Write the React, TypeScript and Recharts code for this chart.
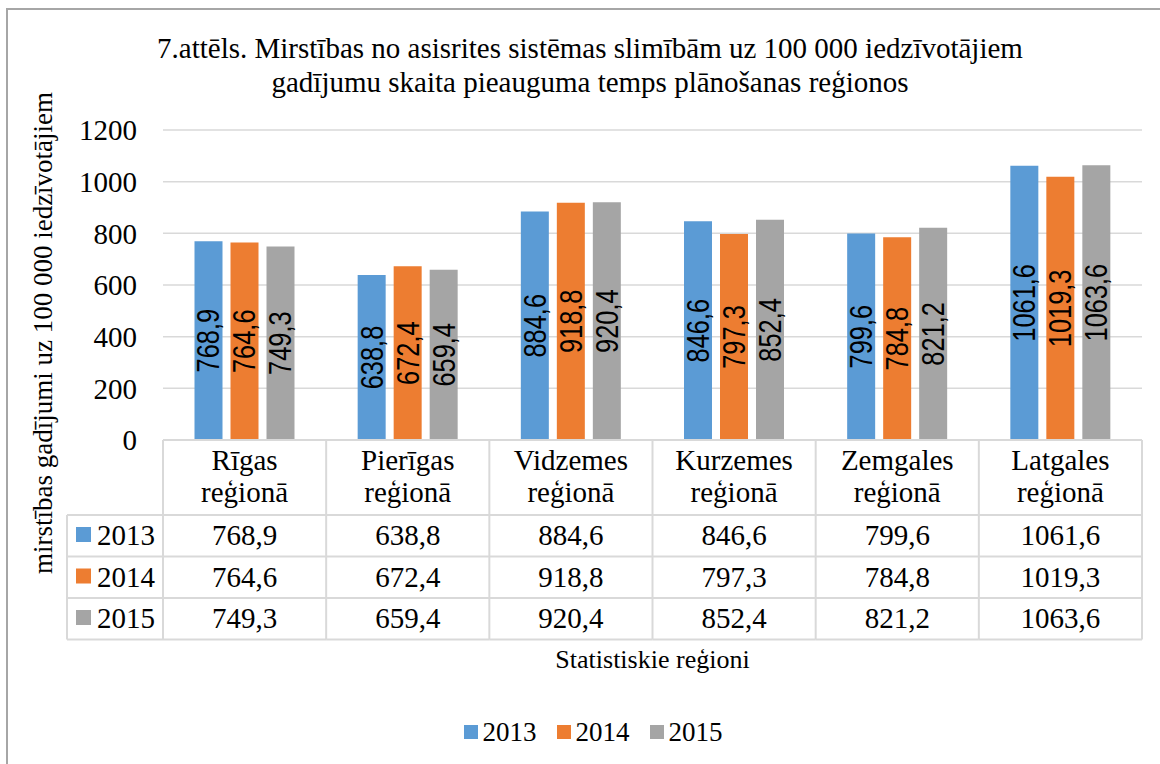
import React from 'react';
import { BarChart, Bar, XAxis, YAxis, CartesianGrid, Legend, LabelList } from 'recharts';

const regions = ['Rīgas reģionā', 'Pierīgas reģionā', 'Vidzemes reģionā', 'Kurzemes reģionā', 'Zemgales reģionā', 'Latgales reģionā'];
const years = ['2013', '2014', '2015'];
const values2013 = [768.9, 638.8, 884.6, 846.6, 799.6, 1061.6];
const values2014 = [764.6, 672.4, 918.8, 797.3, 784.8, 1019.3];
const values2015 = [749.3, 659.4, 920.4, 852.4, 821.2, 1063.6];
const yTicks = [0, 200, 400, 600, 800, 1000, 1200];

const seriesValues = [values2013, values2014, values2015];
const seriesKeys = ['y2013', 'y2014', 'y2015'];
const colors = ['#5B9BD5', '#ED7D31', '#A5A5A5'];

const data = regions.map((r, i) => ({
  region: r,
  y2013: values2013[i],
  y2014: values2014[i],
  y2015: values2015[i],
}));

const SERIF = '"Liberation Serif", "Times New Roman", serif';
const SANS = '"Liberation Sans", Arial, sans-serif';
const GRID = '#D9D9D9';

const fmt = (v: any) => Number(v).toFixed(1).replace('.', ',');

const HEADER_H = 75;
const ROW_H = 41.5;
const LEFT_COL_W = 96;
const FS = 29;

const TableTick = (props: any) => {
  const { x, y, payload, index, width } = props;
  const bw = (typeof width === 'number' && width > 0 ? width : 979) / regions.length;
  const half = bw / 2;
  const left = x - half;
  const right = x + half;
  const bottom = y + HEADER_H + ROW_H * years.length;
  const words = String(payload.value).split(' ');
  const rowLines = [0, 1, 2, 3].map((k) => y + HEADER_H + ROW_H * k);
  return (
    <g>
      {index === 0 && (
        <line x1={left} y1={y} x2={left} y2={bottom} stroke={GRID} strokeWidth={2} />
      )}
      <line x1={right} y1={y} x2={right} y2={bottom} stroke={GRID} strokeWidth={2} />
      {rowLines.map((ly, k) => (
        <line key={k} x1={left} y1={ly} x2={right} y2={ly} stroke={GRID} strokeWidth={2} />
      ))}
      <text x={x} y={y + 30} textAnchor="middle" fontFamily={SERIF} fontSize={FS} fill="#000">{words[0]}</text>
      <text x={x} y={y + 62} textAnchor="middle" fontFamily={SERIF} fontSize={FS} fill="#000">{words.slice(1).join(' ')}</text>
      {seriesValues.map((vals, k) => (
        <text key={k} x={x} y={y + HEADER_H + ROW_H * k + 30} textAnchor="middle" fontFamily={SERIF} fontSize={FS} fill="#000">
          {fmt(vals[index])}
        </text>
      ))}
      {index === 0 && (
        <g>
          {rowLines.map((ly, k) => (
            <line key={k} x1={left - LEFT_COL_W} y1={ly} x2={left} y2={ly} stroke={GRID} strokeWidth={2} />
          ))}
          <line x1={left - LEFT_COL_W} y1={rowLines[0]} x2={left - LEFT_COL_W} y2={bottom} stroke={GRID} strokeWidth={2} />
          {years.map((yr, k) => (
            <g key={yr}>
              <rect x={left - 87} y={y + HEADER_H + ROW_H * k + 12} width={15} height={15} fill={colors[k]} />
              <text x={left - 66} y={y + HEADER_H + ROW_H * k + 30} fontFamily={SERIF} fontSize={FS} fill="#000">{yr}</text>
            </g>
          ))}
        </g>
      )}
    </g>
  );
};

const BarValueLabel = (props: any) => {
  const { x, y, width, height, value } = props;
  const cx = Number(x) + Number(width) / 2;
  const cy = Number(y) + Number(height) / 2;
  return (
    <text
      transform={`translate(${cx}, ${cy}) rotate(-90) scale(0.82, 1)`}
      textAnchor="middle"
      dominantBaseline="central"
      fontFamily={SANS}
      fontSize={31}
      fill="#000"
    >
      {fmt(value)}
    </text>
  );
};

const LegendContent = (props: any) => {
  const payload = props.payload || [];
  return (
    <div style={{ display: 'flex', justifyContent: 'center', alignItems: 'center', fontFamily: SERIF, fontSize: 27, lineHeight: '30px', color: '#000' }}>
      {payload.map((p: any, i: number) => (
        <div key={i} style={{ display: 'flex', alignItems: 'center', marginRight: i < payload.length - 1 ? 20 : 0 }}>
          <span style={{ display: 'inline-block', width: 14, height: 14, background: p.color, marginRight: 5 }} />
          <span>{p.value}</span>
        </div>
      ))}
    </div>
  );
};

export default function App() {
  return (
    <div style={{ position: 'absolute', left: 0, top: 0, width: 1160, height: 764, overflow: 'hidden', background: '#fff', fontFamily: SERIF }}>
      <div style={{ position: 'absolute', left: 6, top: 8, width: 1200, height: 800, border: '2px solid #A6A6A6', boxSizing: 'border-box' }} />
      <div style={{ position: 'absolute', left: 0, top: 31, width: 1180, textAlign: 'center', fontSize: 29, lineHeight: '34px', color: '#000' }}>
        <div>7.attēls. Mirstības no asisrites sistēmas slimībām uz 100 000 iedzīvotājiem</div>
        <div>gadījumu skaita pieauguma temps plānošanas reģionos</div>
      </div>
      <div style={{ position: 'absolute', left: 0, top: 0 }}>
        <BarChart
          width={1160}
          height={764}
          data={data}
          margin={{ top: 130, right: 18, bottom: 124, left: 13 }}
          barCategoryGap={31.5}
          barGap={8}
        >
          <CartesianGrid vertical={false} stroke={GRID} strokeWidth={1.5} />
          <XAxis
            dataKey="region"
            height={200}
            axisLine={{ stroke: GRID, strokeWidth: 2 }}
            tickLine={false}
            tickSize={0}
            tickMargin={0}
            interval={0}
            tick={<TableTick />}
            label={(lp: any) => {
              const vb = lp.viewBox || {};
              return (
                <text x={(vb.x ?? 163) + (vb.width ?? 979) / 2} y={668} textAnchor="middle" fontFamily={SERIF} fontSize={26} fill="#000">
                  Statistiskie reģioni
                </text>
              );
            }}
          />
          <YAxis
            width={150}
            domain={[0, 1200]}
            ticks={yTicks}
            axisLine={false}
            tickLine={false}
            tickSize={0}
            tickMargin={26}
            tick={{ fontFamily: SERIF, fontSize: FS, fill: '#000' }}
            label={() => (
              <text transform="translate(52, 333) rotate(-90)" textAnchor="middle" fontFamily={SERIF} fontSize={27} fill="#000">
                mirstības gadījumi uz 100 000 iedzīvotājiem
              </text>
            )}
          />
          <Legend
            verticalAlign="middle"
            align="center"
            layout="horizontal"
            wrapperStyle={{ top: 717, left: 0, width: 1186 }}
            content={<LegendContent />}
          />
          {seriesKeys.map((k, i) => (
            <Bar key={k} dataKey={k} name={years[i]} fill={colors[i]} isAnimationActive={false}>
              <LabelList dataKey={k} position="center" content={<BarValueLabel />} />
            </Bar>
          ))}
        </BarChart>
      </div>
    </div>
  );
}
